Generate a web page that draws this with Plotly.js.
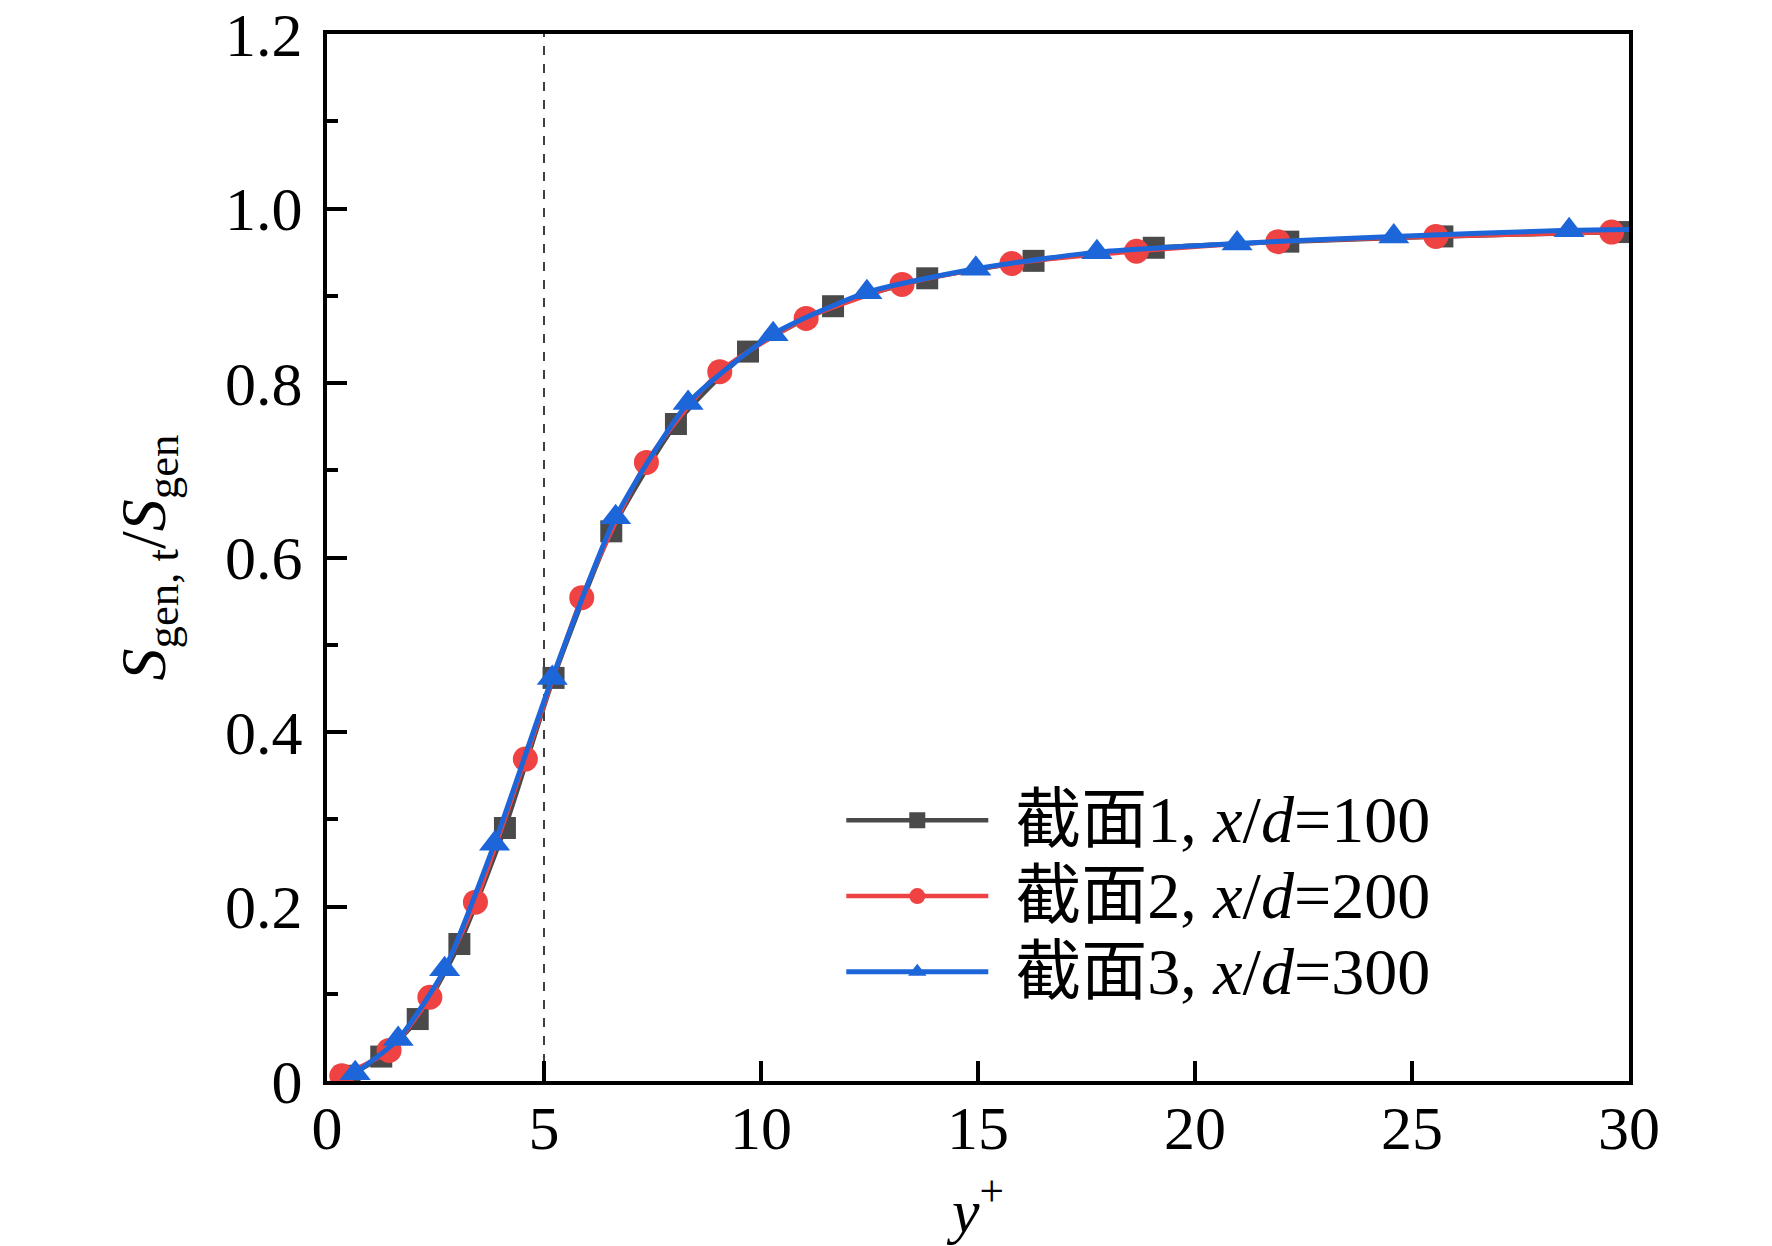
<!DOCTYPE html>
<html>
<head>
<meta charset="utf-8">
<script src="https://cdn.plot.ly/plotly-3.0.1.min.js"></script>
<style>
  html, body { margin: 0; padding: 0; background: #fff; }
  #chart { width: 1772px; height: 1246px; }
</style>
</head>
<body>
<div id="chart"></div>
<script>
// Values (y+ vs S_gen,t / S_gen)
const sec1X = [0.52, 1.25, 2.09, 3.05, 4.10, 5.22, 6.55, 8.04, 9.70, 11.66, 13.83, 16.28, 19.05, 22.15, 25.70, 29.75];
const sec1Y = [0.006, 0.028, 0.071, 0.157, 0.290, 0.462, 0.630, 0.753, 0.836, 0.888, 0.920, 0.940, 0.955, 0.962, 0.968, 0.973];

const sec2X = [0.34, 1.43, 2.37, 3.42, 4.57, 5.87, 7.36, 9.05, 11.04, 13.25, 15.78, 18.65, 21.91, 25.55, 29.60];
const sec2Y = [0.006, 0.035, 0.096, 0.205, 0.369, 0.554, 0.709, 0.813, 0.874, 0.913, 0.937, 0.951, 0.962, 0.968, 0.973];

// last blue value sits on the right frame, the line reaches it but no symbol is drawn there
const sec3X = [0.65, 1.64, 2.71, 3.86, 5.19, 6.65, 8.32, 10.28, 12.44, 14.95, 17.74, 20.97, 24.58, 28.62, 30.0];
const sec3Y = [0.009, 0.048, 0.128, 0.272, 0.462, 0.646, 0.777, 0.856, 0.904, 0.931, 0.950, 0.960, 0.968, 0.975, 0.976];

const seriesNames = [
    '截面1, <i>x</i>/<i>d</i>=100',
    '截面2, <i>x</i>/<i>d</i>=200',
    '截面3, <i>x</i>/<i>d</i>=300'
];

const yTickVals = [0, 0.2, 0.4, 0.6, 0.8, 1.0, 1.2];
const yTickText = ['0', '0.2', '0.4', '0.6', '0.8', '1.0', '1.2'];
const xTickVals = [0, 5, 10, 15, 20, 25, 30];

const refLineX = 5;   // dashed marker at y+ = 5

const serif = '"Liberation Serif", "Times New Roman", "Noto Sans CJK SC", serif';

function makeTrace(x, y, name, color, symbol, size, lineWidth, hideLast) {
    const trace = {
        x: x,
        y: y,
        // small spacer keeps the text clear of the legend line, as in the original
        name: '<span style="font-size:88px">&nbsp;</span><span style="font-size:66px">' + name + '</span>',
        type: 'scatter',
        mode: 'lines+markers',
        line: { color: color, width: lineWidth, shape: 'spline', smoothing: 0.6 },
        marker: { color: color, symbol: symbol, size: size, opacity: 1 },
        cliponaxis: true
    };
    if (hideLast) {
        // the end point only closes the line at the frame: draw no symbol on it
        trace.selectedpoints = x.slice(0, -1).map((v, i) => i);
        trace.selected = { marker: { opacity: 1 } };
        trace.unselected = { marker: { opacity: 0 } };
    }
    return trace;
}

const traces = [
    makeTrace(sec1X, sec1Y, seriesNames[0], '#4a4a4a', 'square', 22, 4.5, false),
    makeTrace(sec2X, sec2Y, seriesNames[1], '#ef4242', 'circle', 25, 4.5, false),
    makeTrace(sec3X, sec3Y, seriesNames[2], '#1c66d9', 'triangle-up', 27, 5, true)
];

const axisCommon = {
    showline: true,
    linecolor: '#000',
    linewidth: 4,
    mirror: true,
    showgrid: false,
    zeroline: false,
    ticks: 'inside',
    tickcolor: '#000',
    tickwidth: 4,
    ticklen: 20,
    tickfont: { family: serif, size: 62, color: '#000' }
};

const layout = {
    width: 1772,
    height: 1246,
    paper_bgcolor: '#fff',
    plot_bgcolor: '#fff',
    margin: { l: 327, r: 143, t: 34, b: 165 },
    showlegend: true,
    legend: {
        x: 0.395,
        y: 0.29,
        xanchor: 'left',
        yanchor: 'top',
        bgcolor: 'rgba(0,0,0,0)',
        font: { family: serif, size: 56, color: '#000' },
        itemwidth: 142,
        tracegroupgap: 0
    },
    xaxis: Object.assign({}, axisCommon, {
        range: [0, 30],
        tickvals: xTickVals,
        ticklabelstandoff: -10,
        title: {
            text: '<i>y</i><sup>+</sup>',
            font: { family: serif, size: 62, color: '#000' },
            standoff: 28
        }
    }),
    yaxis: Object.assign({}, axisCommon, {
        range: [0, 1.2],
        tickvals: yTickVals,
        ticktext: yTickText,
        ticklabelstandoff: 8,
        minor: { ticks: 'inside', dtick: 0.1, ticklen: 11, tickwidth: 4, tickcolor: '#000' },
        title: {
            text: '<i>S</i><sub>gen, t</sub>/<i>S</i><sub>gen</sub>',
            font: { family: serif, size: 64, color: '#000' },
            standoff: 40
        }
    }),
    shapes: [{
        type: 'line',
        xref: 'x', yref: 'y',
        x0: refLineX, x1: refLineX, y0: 0, y1: 1.2,
        line: { color: '#000', width: 1.5, dash: 'dash' },
        layer: 'below'
    }]
};

document.addEventListener('DOMContentLoaded', () => {
    Plotly.newPlot('chart', traces, layout, { displayModeBar: false, staticPlot: true });
});
</script>
</body>
</html>
